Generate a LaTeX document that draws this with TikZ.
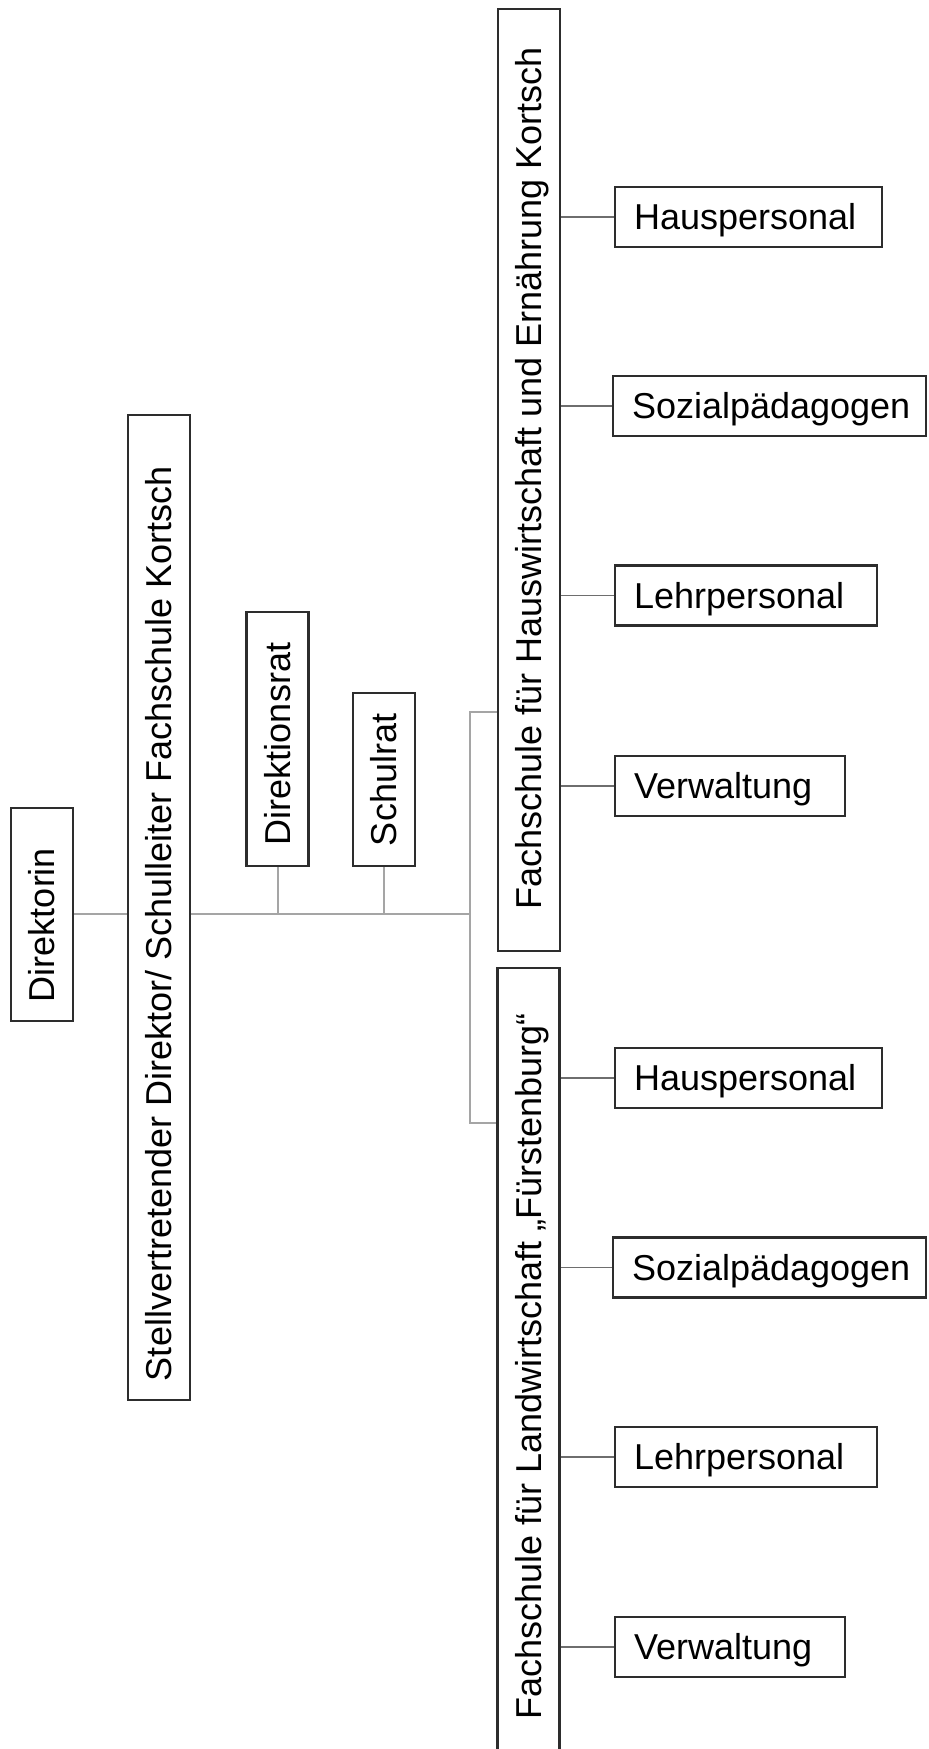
\documentclass[tikz,border=0pt]{standalone}
\usepackage{fontspec}
\setmainfont{Liberation Sans}
\definecolor{boxline}{RGB}{45,45,45}
\definecolor{conn}{RGB}{165,165,165}
\definecolor{connd}{RGB}{110,110,110}
\newcommand{\txtbox}[3]{\makebox[#1][#2]{#3}}
\begin{document}
\begin{tikzpicture}[x=0.5pt,y=-0.5pt,
  box/.style={draw=boxline, line width=1.2pt, rectangle, inner ysep=0pt,
    font=\fontsize{18pt}{21pt}\selectfont, text height=12.9pt, text depth=0pt},
  hbox/.style={box, minimum height=30pt, inner xsep=9.5pt},
  vbox/.style={box, rotate=90, minimum height=31pt},
  lconn/.style={draw=conn, line width=1pt},
  rconn/.style={draw=connd, line width=0.8pt}]
\useasboundingbox (0,0) rectangle (929,1749);
% left column
\node[vbox, minimum width=106.5pt, inner xsep=9.5pt] (dir) at (42,914.5) {\txtbox{87.5pt}{l}{Direktorin}};
\node[vbox, minimum width=492.5pt, inner xsep=9.5pt] (stv) at (159,907.5) {\txtbox{473.5pt}{l}{Stellvertretender Direktor/ Schulleiter Fachschule Kortsch}};
\node[vbox, minimum width=127pt, inner xsep=10.5pt] (dr) at (277.5,739) {\txtbox{106pt}{l}{Direktionsrat}};
\node[vbox, minimum width=86.5pt, inner xsep=10pt] (sr) at (384,779.5) {\txtbox{66.5pt}{l}{Schulrat}};
\node[vbox, minimum width=471pt, inner xsep=19pt] (hw) at (529,480) {\txtbox{433pt}{r}{Fachschule für Hauswirtschaft und Ernährung Kortsch}};
\node[vbox, minimum width=398.5pt, inner xsep=22.5pt] (lw) at (528.5,1366.5) {\txtbox{353.5pt}{r}{Fachschule für Landwirtschaft „Fürstenburg“}};
% right boxes
\node[hbox, minimum width=133.5pt] (h1) at (748.5,217) {\txtbox{114.5pt}{l}{Hauspersonal}};
\node[hbox, minimum width=156.5pt] (s1) at (769.5,406) {\txtbox{137.5pt}{l}{Sozialpädagogen}};
\node[hbox, minimum width=131pt] (l1) at (746,595.5) {\txtbox{112pt}{l}{Lehrpersonal}};
\node[hbox, minimum width=115pt] (v1) at (730,786) {\txtbox{96pt}{l}{Verwaltung}};
\node[hbox, minimum width=133.5pt] (h2) at (748.5,1078) {\txtbox{114.5pt}{l}{Hauspersonal}};
\node[hbox, minimum width=156.5pt] (s2) at (769.5,1267.5) {\txtbox{137.5pt}{l}{Sozialpädagogen}};
\node[hbox, minimum width=131pt] (l2) at (746,1457) {\txtbox{112pt}{l}{Lehrpersonal}};
\node[hbox, minimum width=115pt] (v2) at (730,1647) {\txtbox{96pt}{l}{Verwaltung}};
% hub coordinates
\coordinate (hub) at (470,914);
\coordinate (tb) at (470,712);
\coordinate (bb) at (470,1123);
% connectors
\draw[lconn] (dir.south |- hub) -- (stv.north |- hub);
\draw[lconn] (stv.south |- hub) -- (hub);
\draw[lconn] (dr.west) -- (dr.west |- hub);
\draw[lconn] (sr.west) -- (sr.west |- hub);
\draw[lconn] (hw.north |- tb) -- (tb) -- (bb) -- (lw.north |- bb);
\foreach \n in {h1,s1,l1,v1} \draw[rconn] (\n.west -| hw.south) -- (\n.west);
\foreach \n in {h2,s2,l2,v2} \draw[rconn] (\n.west -| lw.south) -- (\n.west);
\end{tikzpicture}
\end{document}
